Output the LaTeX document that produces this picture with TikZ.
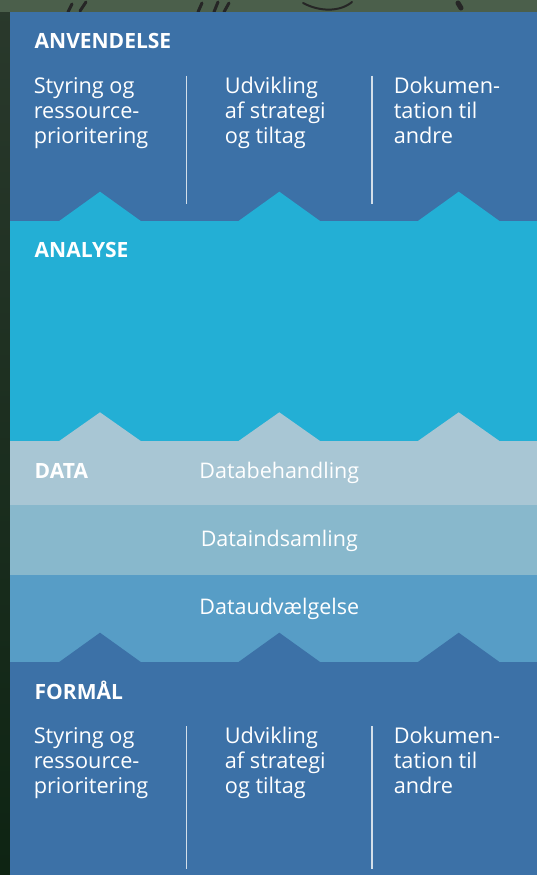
\documentclass[tikz,border=0pt]{standalone}
\usepackage{fontspec}
\setmainfont{Open Sans}
\definecolor{bgtop}{HTML}{4B5F4B}
\definecolor{bgside}{HTML}{2A392C}
\definecolor{bgbot}{HTML}{0E2413}
\definecolor{darkblue}{HTML}{3C71A7}
\definecolor{cyanband}{HTML}{23AFD5}
\definecolor{rowone}{HTML}{A8C6D4}
\definecolor{rowtwo}{HTML}{88B8CC}
\definecolor{rowthree}{HTML}{579DC6}
\definecolor{divider}{HTML}{D3DFEA}
\tikzset{
  heading/.style={anchor=base west, inner sep=0pt, text=white, font=\fontsize{21}{24}\selectfont\bfseries},
  body/.style={anchor=base west, inner sep=0pt, text=white, font=\fontsize{21.7}{25}\selectfont},
  datalabel/.style={anchor=base, inner sep=0pt, text=white, font=\fontsize{21.5}{24}\selectfont},
  divline/.style={draw=divider, line width=1.3pt},
  sketch/.style={draw=black!85, line width=3pt, line cap=round}
}
\begin{document}
\begin{tikzpicture}[x=1pt,y=-1pt]
\useasboundingbox (0,0) rectangle (537,875);
% photo background
\shade[top color=bgside, bottom color=bgbot] (0,0) rectangle (537,875);
\fill[bgtop] (0,0) rectangle (537,12);
\draw[sketch] (68,12) -- (72,4) (80,11) -- (86,2);
\draw[sketch] (198,12) -- (202,3) (214,12) -- (218,2) (224,12) -- (229,3);
\draw[sketch, line width=2pt] (303,3) .. controls (320,12) and (340,12) .. (352,2);
\draw[sketch, line width=5pt] (458,3) -- (461,8);
% bands
\fill[darkblue] (10,12) rectangle (537,221);
\fill[cyanband] (10,221) rectangle (537,441);
\fill[rowone] (10,441) rectangle (537,505);
\fill[rowtwo] (10,505) rectangle (537,575);
\fill[rowthree] (10,575) rectangle (537,662);
\fill[darkblue] (10,662) rectangle (537,875);
% chevrons
\foreach \px in {100,279.3,458.7}{
  \fill[cyanband] (\px-41.5,221.5) -- (\px,191.7) -- (\px+41.5,221.5) -- cycle;
  \fill[rowone] (\px-41.5,441.5) -- (\px,412.3) -- (\px+41.5,441.5) -- cycle;
  \fill[darkblue] (\px-41.5,662.5) -- (\px,632.7) -- (\px+41.5,662.5) -- cycle;
}
% top section
\node[heading] (hA) at (34.5,48.5) {ANVENDELSE};
\node[body] (a1l1) at (33.6,93.3) {Styring og};
\node[body] (a1l2) at (33.6,118.5) {ressource-};
\node[body] (a1l3) at (33.6,143.7) {prioritering};
\node[body] (a2l1) at (224.7,93.3) {Udvikling};
\node[body] (a2l2) at (224.7,118.5) {af strategi};
\node[body] (a2l3) at (224.7,143.7) {og tiltag};
\node[body] (a3l1) at (393.6,93.3) {Dokumen-};
\node[body] (a3l2) at (393.6,118.5) {tation til};
\node[body] (a3l3) at (393.6,143.7) {andre};
\coordinate (dA1t) at (186.7,75.7); \coordinate (dA1b) at (186.7,204);
\coordinate (dA2t) at (372,75.7); \coordinate (dA2b) at (372,204);
\draw[divline] (dA1t) -- (dA1b);
\draw[divline] (dA2t) -- (dA2b);
% analyse
\node[heading] (hB) at (34.5,257.3) {ANALYSE};
% data
\node[heading] (hC) at (34.5,478.5) {DATA};
\node[datalabel] (d1) at (279.3,478.3) {Databehandling};
\node[datalabel] (d2) at (279.3,546.5) {Dataindsamling};
\node[datalabel] (d3) at (279.3,614.5) {Dataudvælgelse};
% bottom section
\node[heading] (hD) at (34.5,699) {FORMÅL};
\node[body] (b1l1) at (33.6,743.5) {Styring og};
\node[body] (b1l2) at (33.6,768.7) {ressource-};
\node[body] (b1l3) at (33.6,793.9) {prioritering};
\node[body] (b2l1) at (224.7,743.5) {Udvikling};
\node[body] (b2l2) at (224.7,768.7) {af strategi};
\node[body] (b2l3) at (224.7,793.9) {og tiltag};
\node[body] (b3l1) at (393.6,743.5) {Dokumen-};
\node[body] (b3l2) at (393.6,768.7) {tation til};
\node[body] (b3l3) at (393.6,793.9) {andre};
\coordinate (dB1t) at (186.7,726); \coordinate (dB1b) at (186.7,868.5);
\coordinate (dB2t) at (372,726); \coordinate (dB2b) at (372,868.5);
\draw[divline] (dB1t) -- (dB1b);
\draw[divline] (dB2t) -- (dB2b);
\end{tikzpicture}
\end{document}
